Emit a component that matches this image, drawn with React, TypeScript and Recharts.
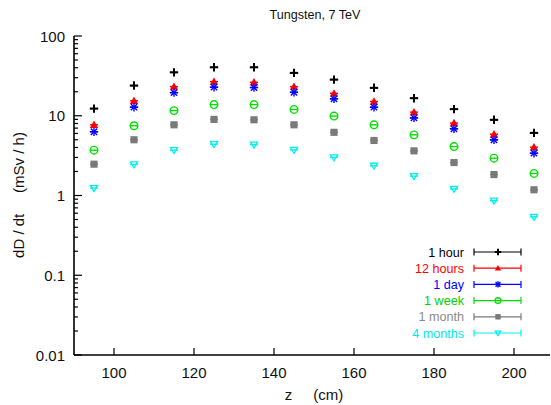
import React from 'react';
import { ScatterChart, Scatter, XAxis, YAxis, Legend, Label } from 'recharts';

const Z = [95, 105, 115, 125, 135, 145, 155, 165, 175, 185, 195, 205];
const HOUR_1 = [12.3, 23.9, 35, 40.5, 40.5, 34.5, 28.4, 22.4, 16.6, 12.1, 8.9, 6.1];
const HOURS_12 = [7.7, 15.4, 23.2, 26.8, 26.3, 23.2, 19.1, 15.1, 11.1, 8.1, 5.86, 4.03];
const DAY_1 = [6.3, 12.8, 19.5, 22.8, 22.6, 19.7, 16.3, 12.8, 9.4, 6.86, 4.99, 3.39];
const WEEK_1 = [3.7, 7.5, 11.6, 13.8, 13.8, 12.0, 9.9, 7.7, 5.76, 4.11, 2.94, 1.89];
const MONTH_1 = [2.47, 5.0, 7.7, 9.0, 8.9, 7.7, 6.2, 4.9, 3.63, 2.59, 1.83, 1.18];
const MONTHS_4 = [1.24, 2.45, 3.7, 4.4, 4.35, 3.73, 3.0, 2.36, 1.75, 1.21, 0.86, 0.54];

const X_TICKS = [100, 120, 140, 160, 180, 200];
const Y_MAJOR = [0.01, 0.1, 1, 10, 100];
const Y_MULT = [2, 3, 4, 5, 6, 7, 8, 9];
const Y_MINOR = Y_MAJOR.slice(0, 4).flatMap((d) => Y_MULT.map((m) => +(d * m).toPrecision(3)));
const Y_TICKS = [...Y_MAJOR, ...Y_MINOR].sort((a, b) => a - b);

const FONT = '"Liberation Sans", Arial, sans-serif';

type Marker = 'plus' | 'triUp' | 'star' | 'circle' | 'square' | 'triDown';

const SERIES: { name: string; values: number[]; color: string; text: string; marker: Marker }[] = [
  { name: '1 hour', values: HOUR_1, color: '#000000', text: '#000000', marker: 'plus' },
  { name: '12 hours', values: HOURS_12, color: '#ff0000', text: '#ff0000', marker: 'triUp' },
  { name: '1 day', values: DAY_1, color: '#0000ff', text: '#0000ff', marker: 'star' },
  { name: '1 week', values: WEEK_1, color: '#00e000', text: '#00d000', marker: 'circle' },
  { name: '1 month', values: MONTH_1, color: '#7a7a7a', text: '#8a8a8a', marker: 'square' },
  { name: '4 months', values: MONTHS_4, color: '#00f0f0', text: '#00e8f0', marker: 'triDown' },
];

function drawMarker(kind: Marker, cx: number, cy: number, color: string, s: number) {
  switch (kind) {
    case 'plus':
      return (
        <g stroke={color} strokeWidth={2}>
          <line x1={cx - s} x2={cx + s} y1={cy} y2={cy} />
          <line x1={cx} x2={cx} y1={cy - s} y2={cy + s} />
        </g>
      );
    case 'triUp':
      return <polygon points={`${cx},${cy - s} ${cx - s},${cy + s * 0.75} ${cx + s},${cy + s * 0.75}`} fill={color} />;
    case 'star':
      return (
        <g stroke={color} strokeWidth={1.4}>
          <line x1={cx - s} x2={cx + s} y1={cy} y2={cy} />
          <line x1={cx} x2={cx} y1={cy - s} y2={cy + s} />
          <line x1={cx - s * 0.75} x2={cx + s * 0.75} y1={cy - s * 0.75} y2={cy + s * 0.75} />
          <line x1={cx - s * 0.75} x2={cx + s * 0.75} y1={cy + s * 0.75} y2={cy - s * 0.75} />
        </g>
      );
    case 'circle':
      return <circle cx={cx} cy={cy} r={s * 0.9} fill="none" stroke={color} strokeWidth={1.4} />;
    case 'square':
      return <rect x={cx - s * 0.85} y={cy - s * 0.85} width={s * 1.7} height={s * 1.7} fill={color} />;
    case 'triDown':
      return (
        <polygon
          points={`${cx - s * 0.85},${cy - s * 0.6} ${cx + s * 0.85},${cy - s * 0.6} ${cx},${cy + s * 0.8}`}
          fill="none"
          stroke={color}
          strokeWidth={1.3}
        />
      );
  }
}

const makeShape = (kind: Marker, color: string) => (props: any) => {
  const { cx, cy } = props;
  if (cx == null || cy == null) return <g />;
  return (
    <g>
      {drawMarker(kind, cx, cy, color, 4.2)}
      <line x1={cx - 4} x2={cx + 4} y1={cy} y2={cy} stroke={color} strokeWidth={1.4} />
    </g>
  );
};

const isMajor = (v: number) => Y_MAJOR.some((m) => Math.abs(m - v) / m < 1e-6);

const LeftTick = (props: any) => {
  const { x, y, payload } = props;
  const major = isMajor(payload.value);
  return (
    <g>
      <line x1={x} x2={x + (major ? 8 : 4)} y1={y} y2={y} stroke="#000" strokeWidth={1.2} />
      {major && (
        <text x={x - 9} y={y + 5.5} textAnchor="end" fontSize={15} fontFamily={FONT} fill="#111">
          {String(payload.value)}
        </text>
      )}
    </g>
  );
};

const RightTick = (props: any) => {
  const { x, y } = props;
  return <line x1={x} x2={x - 8} y1={y} y2={y} stroke="#000" strokeWidth={1.2} />;
};

const BottomTick = (props: any) => {
  const { x, y, payload } = props;
  return (
    <g>
      <line x1={x} x2={x} y1={y} y2={y - 7} stroke="#000" strokeWidth={1.2} />
      <text x={x} y={y + 23} textAnchor="middle" fontSize={15} fontFamily={FONT} fill="#111">
        {payload.value}
      </text>
    </g>
  );
};

const TopTick = (props: any) => {
  const { x, y } = props;
  return <line x1={x} x2={x} y1={y} y2={y + 8} stroke="#000" strokeWidth={1.2} />;
};

const renderLegend = () => (
  <svg width={200} height={100} style={{ display: 'block' }}>
    {SERIES.map((s, i) => {
      const y = 8 + i * 16.2;
      return (
        <g key={s.name}>
          <text x={124} y={y + 4.5} textAnchor="end" fontSize={12.6} fontFamily={FONT} fill={s.text}>
            {s.name}
          </text>
          <g stroke={s.color} strokeWidth={1.2}>
            <line x1={134} x2={181} y1={y} y2={y} />
            <line x1={134} x2={134} y1={y - 3.5} y2={y + 3.5} />
            <line x1={181} x2={181} y1={y - 3.5} y2={y + 3.5} />
          </g>
          {drawMarker(s.marker, 158, y, s.color, 3.2)}
        </g>
      );
    })}
  </svg>
);

export default function App() {
  return (
    <div style={{ position: 'absolute', left: 0, top: 0, width: 551, height: 405, background: '#fff' }}>
      <svg width={551} height={30} style={{ position: 'absolute', left: 0, top: 0 }}>
        <text x={315} y={19} textAnchor="middle" fontSize={12.6} fontFamily={FONT} fill="#111">
          Tungsten, 7 TeV
        </text>
      </svg>
      <ScatterChart width={551} height={405} margin={{ top: 36, right: 1, bottom: 0, left: 0 }}>
        <XAxis
          xAxisId="bottom"
          dataKey="x"
          type="number"
          domain={[90, 209]}
          allowDataOverflow
          ticks={X_TICKS}
          interval={0}
          height={50}
          tickSize={0}
          tickMargin={0}
          tick={<BottomTick />}
          axisLine={{ stroke: '#000', strokeWidth: 1.6 }}
        >
          <Label
            content={() => (
              <text x={314} y={400} textAnchor="middle" fontSize={15} fontFamily={FONT} fill="#111">
                {'z\u00A0\u00A0\u00A0\u00A0 (cm)'}
              </text>
            )}
          />
        </XAxis>
        <XAxis
          xAxisId="top"
          orientation="top"
          type="number"
          domain={[90, 209]}
          allowDataOverflow
          ticks={X_TICKS}
          interval={0}
          height={0}
          tickSize={0}
          tickMargin={0}
          tick={<TopTick />}
          axisLine={{ stroke: '#000', strokeWidth: 1.6 }}
        />
        <YAxis
          yAxisId="left"
          dataKey="y"
          type="number"
          scale="log"
          domain={[0.01, 100]}
          allowDataOverflow
          ticks={Y_TICKS}
          interval={0}
          width={74}
          tickSize={0}
          tickMargin={0}
          tick={<LeftTick />}
          axisLine={{ stroke: '#000', strokeWidth: 1.6 }}
        >
          <Label
            content={() => (
              <text
                x={24}
                y={195}
                transform="rotate(-90 24 195)"
                textAnchor="middle"
                fontSize={15}
                fontFamily={FONT}
                fill="#111"
              >
                {'dD / dt\u00A0\u00A0\u00A0\u00A0 (mSv / h)'}
              </text>
            )}
          />
        </YAxis>
        <YAxis
          yAxisId="right"
          orientation="right"
          type="number"
          scale="log"
          domain={[0.01, 100]}
          allowDataOverflow
          ticks={[0.1, 1, 10]}
          interval={0}
          width={0}
          tickSize={0}
          tickMargin={0}
          tick={<RightTick />}
          axisLine={{ stroke: '#aaa', strokeWidth: 1, strokeDasharray: '2 2' }}
        />
        <Legend
          layout="horizontal"
          verticalAlign="middle"
          align="center"
          content={renderLegend}
          wrapperStyle={{ left: 340, top: 244, width: 200, height: 100 }}
        />
        {SERIES.map((s) => (
          <Scatter
            key={s.name}
            name={s.name}
            xAxisId="bottom"
            yAxisId="left"
            data={Z.map((z, i) => ({ x: z, y: s.values[i] }))}
            shape={makeShape(s.marker, s.color)}
            isAnimationActive={false}
          />
        ))}
      </ScatterChart>
    </div>
  );
}
